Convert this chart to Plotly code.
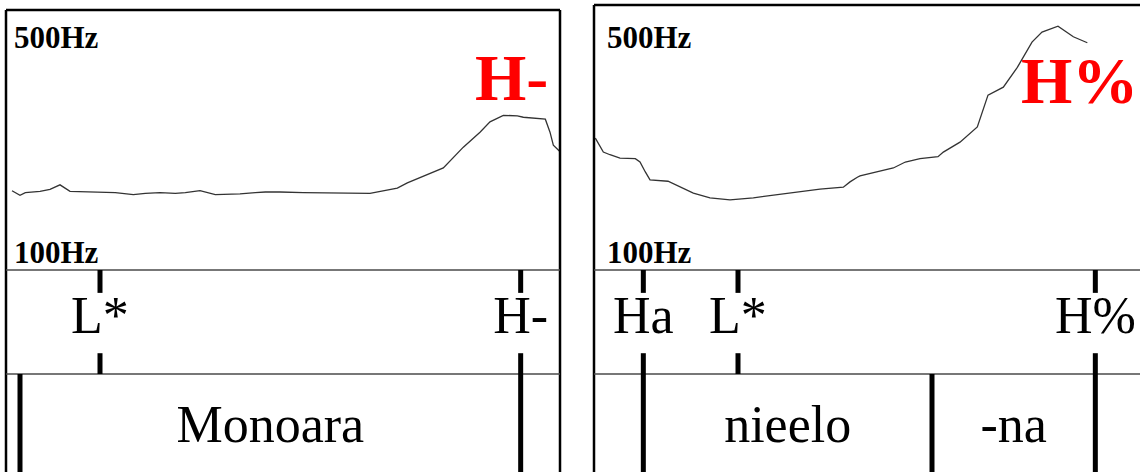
import plotly.graph_objects as go

W, H = 1140, 472

# ---- pitch tracks: time (ms) and F0 (Hz) ----
left_time = [9, 21, 29, 51, 66, 81, 96, 126, 164, 191, 209, 231, 254, 269, 291,
             314, 351, 374, 389, 411, 446, 546, 587, 602, 656, 686, 711, 726,
             746, 767, 776, 809, 816, 821, 830]
left_f0 = [222, 215, 219, 221, 224, 231, 221, 220, 219, 216, 218, 219, 218, 219, 222,
           216, 217, 219, 220, 220, 219, 218, 226, 234, 257, 289, 312, 328,
           338, 337, 335, 332, 312, 292, 283]

right_time = [2, 14, 24, 39, 62, 69, 77, 84, 111, 129, 149, 174, 204, 239, 269,
              309, 339, 374, 384, 395, 399, 449, 467, 489, 516, 524, 549, 575,
              591, 614, 635, 657, 672, 696, 719, 740]
right_f0 = [299, 278, 274, 269, 268, 263, 248, 236, 234, 225, 216, 209, 206, 209, 213,
            218, 222, 225, 233, 240, 242, 254, 263, 268, 271, 278, 293, 316,
            364, 376, 406, 444, 459, 468, 452, 443]

f0_range = [100, 500]
f0_labels = ["100Hz", "500Hz"]

# ---- tone tier ----
left_tones = ["L*", "H-"]
left_tone_times = [141, 772]
right_tones = ["Ha", "L*", "H%"]
right_tone_times = [74, 216, 752]

# ---- word tier ----
left_words = ["Monoara"]
left_word_bounds = [21, 772]
right_words = ["nieelo", "-na"]
right_word_bounds = [74, 507, 752]

# boundary tone highlighted over each contour
left_highlight = "H-"
right_highlight = "H%"

# ---- layout geometry (pixels) ----
SERIF = "Liberation Serif"
panels = [
    dict(x0=6, x1=560, top=10, span=831, xa="x", ya="y", ta="y3",
         time=left_time, f0=left_f0, tones=left_tones, tone_t=left_tone_times,
         words=left_words, bounds=left_word_bounds, hl=left_highlight,
         hl_x=511, hl_y=77, lab_x=12, border_right=True),
    dict(x0=594, x1=1140, top=5, span=819, xa="x2", ya="y2", ta="y4",
         time=right_time, f0=right_f0, tones=right_tones, tone_t=right_tone_times,
         words=right_words, bounds=right_word_bounds, hl=right_highlight,
         hl_x=1079, hl_y=80, lab_x=605, border_right=False),
]
TIER1_TOP = 270      # line under the pitch track
TIER2_TOP = 374      # line between tone tier and word tier
TIER_UNIT = TIER2_TOP - TIER1_TOP
TONE_ROW = 0.48      # label centre within the tone tier (tier units)
WORD_ROW = 1.525     # label centre within the word tier (tier units)


def px(x):
    return x / W


def py(y):
    return 1 - y / H


def serif(txt):
    """Pin the serif face on the text run itself."""
    return f"<span style=\"font-family:'{SERIF}';font-weight:400\">{txt}</span>"


fig = go.Figure()
shapes = []
annotations = []
layout_axes = {}

hidden = dict(showgrid=False, zeroline=False, showticklabels=False,
              ticks="", showline=False, fixedrange=True)

for i, p in enumerate(panels):
    xname = "xaxis" if i == 0 else "xaxis2"
    yname = "yaxis" if i == 0 else "yaxis2"
    tname = "yaxis3" if i == 0 else "yaxis4"
    layout_axes[xname] = dict(domain=[px(p["x0"]), min(px(p["x1"]), 1)],
                              range=[0, p["span"]], **hidden)
    layout_axes[yname] = dict(domain=[py(TIER1_TOP), py(p["top"])],
                              range=f0_range, anchor=p["xa"], **hidden)
    layout_axes[tname] = dict(domain=[0, py(TIER1_TOP)],
                              range=[(H - TIER1_TOP) / TIER_UNIT, 0],
                              anchor=p["xa"], **hidden)

    # pitch contour
    fig.add_trace(go.Scatter(x=p["time"], y=p["f0"], mode="lines",
                             line=dict(color="#333333", width=1.3),
                             xaxis=p["xa"], yaxis=p["ya"], hoverinfo="skip",
                             showlegend=False))

    # panel frame
    frame = dict(type="line", xref="paper", yref="paper",
                 line=dict(color="black", width=2.5))
    shapes.append({**frame, "x0": px(p["x0"]), "x1": px(p["x0"]),
                   "y0": 0, "y1": py(p["top"])})
    shapes.append({**frame, "x0": px(p["x0"]), "x1": min(px(p["x1"]), 1),
                   "y0": py(p["top"]), "y1": py(p["top"])})
    if p["border_right"]:
        shapes.append({**frame, "x0": px(p["x1"]), "x1": px(p["x1"]),
                       "y0": 0, "y1": py(p["top"])})

    # tier separators
    for yy in (TIER1_TOP, TIER2_TOP):
        shapes.append(dict(type="line", xref="paper", yref="paper",
                           x0=px(p["x0"]), x1=min(px(p["x1"]), 1),
                           y0=py(yy), y1=py(yy),
                           line=dict(color="#4a4a4a", width=1.5)))

    tick = dict(type="line", xref=p["xa"], yref=p["ta"],
                line=dict(color="black", width=5))
    # tone marks: short stubs above and below each label
    for t in p["tone_t"]:
        shapes.append({**tick, "x0": t, "x1": t, "y0": 0, "y1": 0.22})
        shapes.append({**tick, "x0": t, "x1": t, "y0": 0.8, "y1": 1})
    # tone labels as a text trace on the tier axis
    fig.add_trace(go.Scatter(x=p["tone_t"], y=[TONE_ROW] * len(p["tone_t"]),
                             mode="text", text=[serif(s) for s in p["tones"]],
                             textposition="middle center",
                             textfont=dict(family=SERIF, size=52, color="black"),
                             xaxis=p["xa"], yaxis=p["ta"], hoverinfo="skip",
                             showlegend=False, cliponaxis=False))

    # word boundaries
    for b in p["bounds"]:
        shapes.append({**tick, "x0": b, "x1": b, "y0": 1, "y1": 2.2})
    mids = [(p["bounds"][k] + p["bounds"][k + 1]) / 2 for k in range(len(p["words"]))]
    fig.add_trace(go.Scatter(x=mids, y=[WORD_ROW] * len(mids),
                             mode="text", text=[serif(s) for s in p["words"]],
                             textposition="middle center",
                             textfont=dict(family=SERIF, size=52, color="black"),
                             xaxis=p["xa"], yaxis=p["ta"], hoverinfo="skip",
                             showlegend=False, cliponaxis=False))

    # frequency range labels
    for lab, yy in ((f0_labels[1], 37), (f0_labels[0], 252)):
        annotations.append(dict(x=px(p["lab_x"]), y=py(yy), xref="paper",
                                yref="paper", text=f"<b>{lab}</b>",
                                showarrow=False, xanchor="left", yanchor="middle",
                                font=dict(family=SERIF, size=31, color="black")))

    # highlighted boundary tone
    annotations.append(dict(x=px(p["hl_x"]), y=py(p["hl_y"]), xref="paper",
                            yref="paper", text=f"<b>{p['hl']}</b>", showarrow=False,
                            xanchor="center", yanchor="middle",
                            font=dict(family=SERIF, size=66, color="#ff0000")))

fig.update_layout(width=W, height=H, margin=dict(l=0, r=0, t=0, b=0),
                  paper_bgcolor="white", plot_bgcolor="white",
                  font=dict(family=SERIF),
                  shapes=shapes, annotations=annotations, showlegend=False,
                  **layout_axes)

fig.write_html("out.html")
